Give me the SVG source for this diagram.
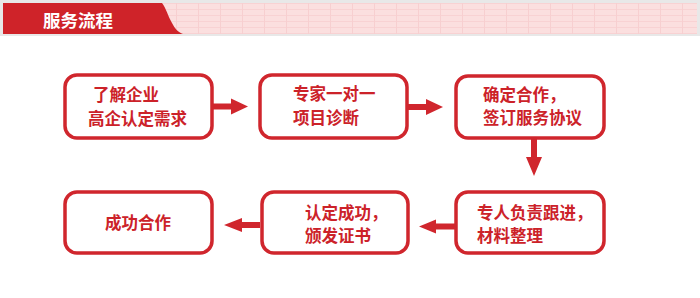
<svg xmlns="http://www.w3.org/2000/svg" width="700" height="298" viewBox="0 0 700 298">
<defs>
<pattern id="grid" x="0" y="3" width="22" height="6" patternUnits="userSpaceOnUse">
<rect width="22" height="6" fill="#fbdfdf"/>
<rect y="0" width="22" height="1" fill="#f8d2d3"/>
<rect x="0" width="1" height="6" fill="#f7cfd0"/>
</pattern>
</defs>
<style>
.box{fill:#fff;stroke:#d0262d;stroke-width:3.5}
.t{font-family:"Noto Sans CJK SC","Noto Sans",sans-serif;font-weight:bold;font-size:16.5px;fill:#cc2229}
.arr{fill:#d0262d}
</style>
<rect width="700" height="298" fill="#fff"/>
<g id="header">
<rect x="0" y="0" width="700" height="36" fill="#e8e8e8"/>
<rect x="3" y="3" width="694" height="31" fill="url(#grid)"/>
<path d="M3,3 H162 C166,8 168,16 172,23 C175,29 178,32 183,34 H3 Z" fill="#cf2329"/>
<text x="43" y="26.5" font-family="'Noto Sans CJK SC','Noto Sans',sans-serif" font-weight="bold" font-size="17.5" fill="#fff">服务流程</text>
</g>
<g id="n1"><rect class="box" x="65" y="75" width="147" height="63" rx="12"/><text class="t" x="93" y="101">了解企业</text><text class="t" x="88" y="125">高企认定需求</text></g>
<g id="n2"><rect class="box" x="260" y="75" width="147" height="63" rx="12"/><text class="t" x="293" y="100">专家一对一</text><text class="t" x="293" y="124">项目诊断</text></g>
<g id="n3"><rect class="box" x="456" y="76" width="148" height="62" rx="12"/><text class="t" x="483" y="101">确定合作，</text><text class="t" x="483" y="124">签订服务协议</text></g>
<g id="n4"><rect class="box" x="456" y="192" width="148" height="61" rx="12"/><text class="t" x="477" y="219">专人负责跟进，</text><text class="t" x="477" y="242">材料整理</text></g>
<g id="n5"><rect class="box" x="262" y="192" width="146" height="61" rx="12"/><text class="t" x="305" y="218.5">认定成功，</text><text class="t" x="305" y="241.5">颁发证书</text></g>
<g id="n6"><rect class="box" x="65" y="192" width="147" height="61" rx="12"/><text class="t" x="105" y="229">成功合作</text></g>
<g id="connectors">
<polygon class="arr" points="213,103.5 231,103.5 231,98.5 248,106.5 231,114.5 231,109.5 213,109.5"/>
<polygon class="arr" points="408,104 426,104 426,99 443,107 426,115 426,110 408,110"/>
<polygon class="arr" points="531,139 537,139 537,157 542,157 534,176 526,157 531,157"/>
<polygon class="arr" points="455,223.5 436,223.5 436,219.5 419,226.5 436,233.5 436,229.5 455,229.5"/>
<polygon class="arr" points="260,222 242,222 242,218 224,225 242,232 242,228 260,228"/>
</g>
</svg>
